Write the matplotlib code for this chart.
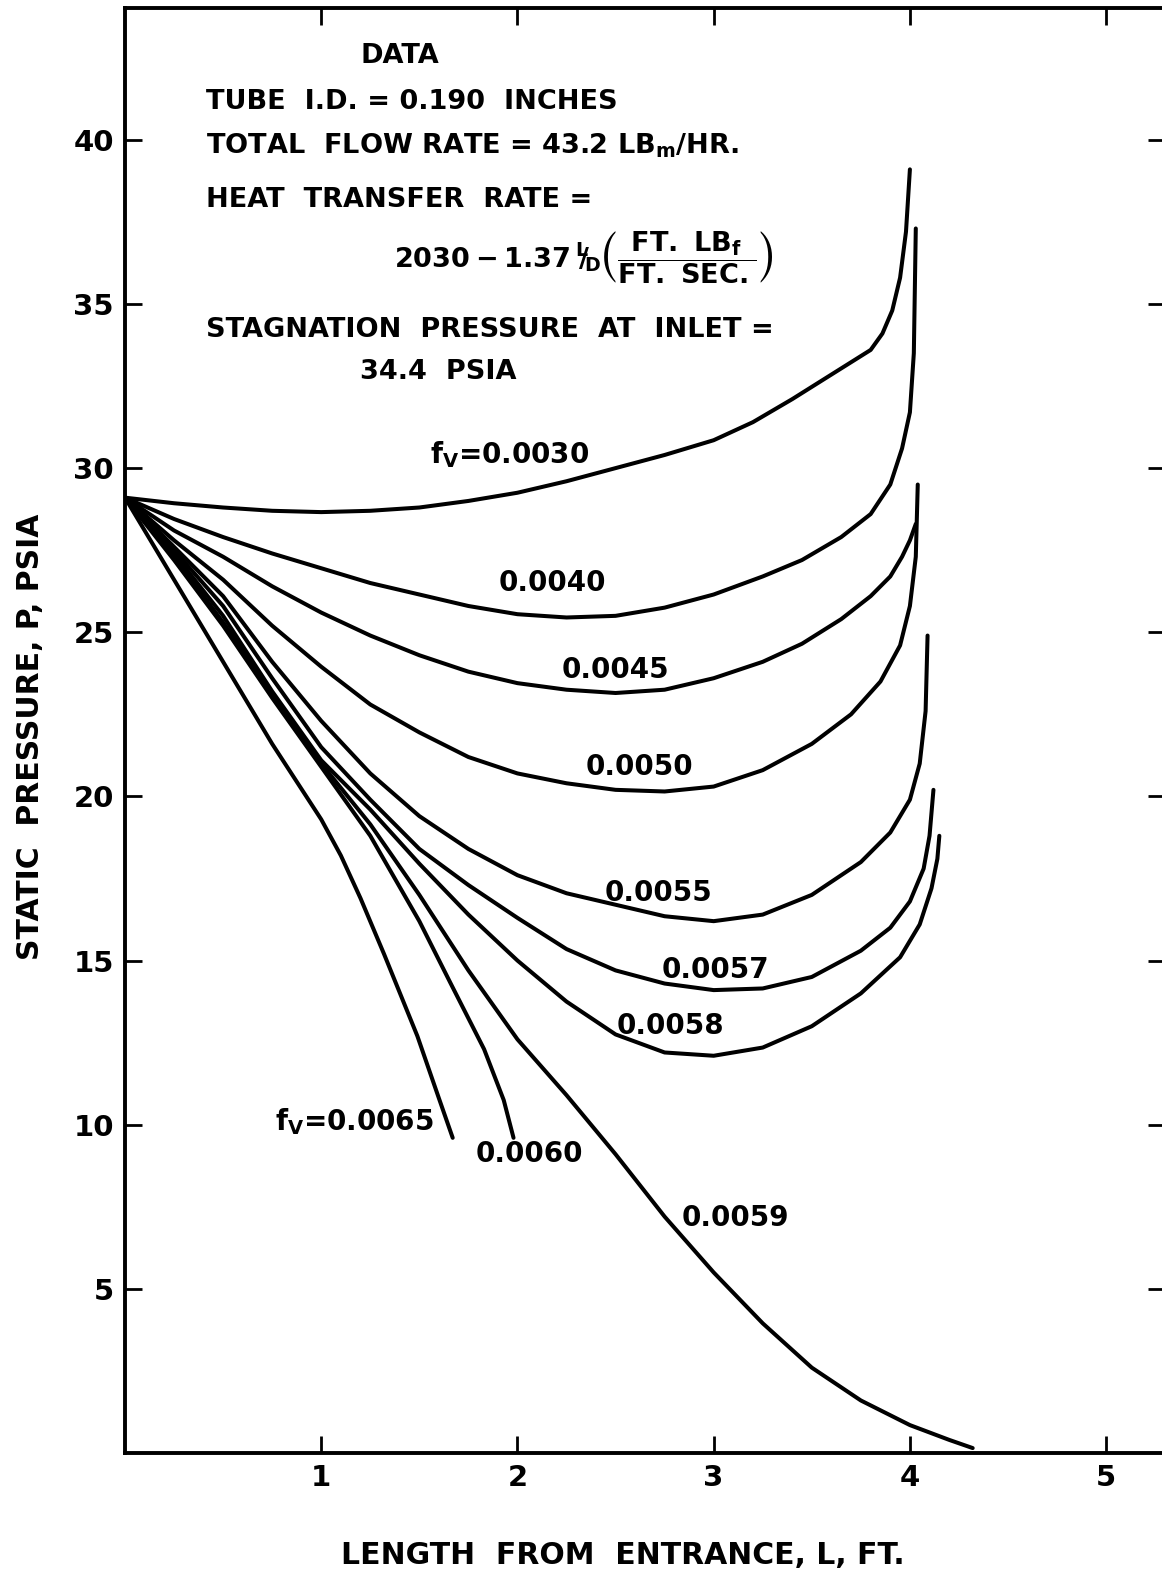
import matplotlib
matplotlib.use('Agg')
import matplotlib.pyplot as plt

plt.rcParams['font.family'] = ['DejaVu Sans']
plt.rcParams['font.weight'] = 'bold'
plt.rcParams['mathtext.fontset'] = 'dejavusans'

# length from entrance (ft) and static pressure (psia) for each friction factor
len_0030 = [0, 0.25, 0.5, 0.75, 1.0, 1.25, 1.5, 1.75, 2.0, 2.25, 2.5, 2.75, 3.0, 3.2, 3.4, 3.6, 3.8, 3.86, 3.91, 3.95, 3.98, 4.0]
p_0030 = [29.1, 28.93, 28.8, 28.7, 28.66, 28.7, 28.8, 29.0, 29.25, 29.6, 30.0, 30.4, 30.85, 31.4, 32.1, 32.85, 33.6, 34.1, 34.8, 35.8, 37.2, 39.1]

len_0040 = [0, 0.25, 0.5, 0.75, 1.0, 1.25, 1.5, 1.75, 2.0, 2.25, 2.5, 2.75, 3.0, 3.25, 3.45, 3.65, 3.8, 3.9, 3.96, 4.0, 4.02, 4.03]
p_0040 = [29.1, 28.45, 27.9, 27.4, 26.95, 26.5, 26.15, 25.8, 25.55, 25.45, 25.5, 25.75, 26.15, 26.7, 27.2, 27.9, 28.6, 29.5, 30.6, 31.7, 33.5, 37.3]

len_0045 = [0, 0.25, 0.5, 0.75, 1.0, 1.25, 1.5, 1.75, 2.0, 2.25, 2.5, 2.75, 3.0, 3.25, 3.45, 3.65, 3.8, 3.9, 3.96, 4.0, 4.03]
p_0045 = [29.1, 28.1, 27.3, 26.4, 25.6, 24.9, 24.3, 23.8, 23.45, 23.25, 23.15, 23.25, 23.6, 24.1, 24.65, 25.4, 26.1, 26.7, 27.3, 27.8, 28.3]

len_0050 = [0, 0.25, 0.5, 0.75, 1.0, 1.25, 1.5, 1.75, 2.0, 2.25, 2.5, 2.75, 3.0, 3.25, 3.5, 3.7, 3.85, 3.95, 4.0, 4.03, 4.04]
p_0050 = [29.1, 27.8, 26.6, 25.2, 23.95, 22.8, 21.95, 21.2, 20.7, 20.4, 20.2, 20.15, 20.3, 20.8, 21.6, 22.5, 23.5, 24.6, 25.8, 27.3, 29.5]

len_0055 = [0, 0.25, 0.5, 0.75, 1.0, 1.25, 1.5, 1.75, 2.0, 2.25, 2.5, 2.75, 3.0, 3.25, 3.5, 3.75, 3.9, 4.0, 4.05, 4.08, 4.09]
p_0055 = [29.1, 27.6, 26.1, 24.1, 22.3, 20.7, 19.4, 18.4, 17.6, 17.05, 16.7, 16.35, 16.2, 16.4, 17.0, 18.0, 18.9, 19.9, 21.0, 22.6, 24.9]

len_0057 = [0, 0.25, 0.5, 0.75, 1.0, 1.25, 1.5, 1.75, 2.0, 2.25, 2.5, 2.75, 3.0, 3.25, 3.5, 3.75, 3.9, 4.0, 4.07, 4.1, 4.12]
p_0057 = [29.1, 27.5, 25.8, 23.6, 21.5, 19.9, 18.4, 17.3, 16.3, 15.35, 14.7, 14.3, 14.1, 14.15, 14.5, 15.3, 16.0, 16.8, 17.8, 18.8, 20.2]

len_0058 = [0, 0.25, 0.5, 0.75, 1.0, 1.25, 1.5, 1.75, 2.0, 2.25, 2.5, 2.75, 3.0, 3.25, 3.5, 3.75, 3.95, 4.05, 4.11, 4.14, 4.15]
p_0058 = [29.1, 27.4, 25.5, 23.2, 21.1, 19.6, 17.95, 16.4, 15.0, 13.75, 12.75, 12.2, 12.1, 12.35, 13.0, 14.0, 15.1, 16.1, 17.2, 18.1, 18.8]

len_0059 = [0, 0.25, 0.5, 0.75, 1.0, 1.25, 1.5, 1.75, 2.0, 2.25, 2.5, 2.75, 3.0, 3.25, 3.5, 3.75, 4.0, 4.2, 4.32]
p_0059 = [29.1, 27.3, 25.3, 23.1, 21.0, 19.15, 17.0, 14.7, 12.6, 10.9, 9.1, 7.2, 5.5, 3.95, 2.6, 1.6, 0.85, 0.4, 0.15]

len_0060 = [0, 0.25, 0.5, 0.75, 1.0, 1.25, 1.5, 1.66, 1.83, 1.93, 1.98]
p_0060 = [29.1, 27.2, 25.2, 23.0, 20.9, 18.8, 16.2, 14.3, 12.3, 10.75, 9.6]

len_0065 = [0, 0.25, 0.5, 0.75, 1.0, 1.1, 1.2, 1.32, 1.49, 1.6, 1.67]
p_0065 = [29.1, 26.6, 24.1, 21.6, 19.3, 18.2, 16.9, 15.2, 12.7, 10.8, 9.6]

curves = [(len_0030, p_0030), (len_0040, p_0040), (len_0045, p_0045), (len_0050, p_0050),
          (len_0055, p_0055), (len_0057, p_0057), (len_0058, p_0058), (len_0059, p_0059),
          (len_0060, p_0060), (len_0065, p_0065)]

curve_labels = ['f$_\\mathregular{V}$=0.0030', '0.0040', '0.0045', '0.0050', '0.0055',
                '0.0057', '0.0058', '0.0059', '0.0060', 'f$_\\mathregular{V}$=0.0065']
label_x = [1.96, 2.18, 2.50, 2.62, 2.72, 3.01, 2.78, 3.11, 2.06, 1.17]
label_y = [30.4, 26.5, 23.85, 20.9, 17.07, 14.7, 13.0, 7.15, 9.1, 10.1]

x_ticks = [1, 2, 3, 4, 5]
y_ticks = [5, 10, 15, 20, 25, 30, 35, 40]

W, H = 1162, 1576
fig = plt.figure(figsize=(W / 100, H / 100), dpi=100)


def fxy(px, py):
    # pixel position in the picture -> figure fraction
    return px / W, 1 - py / H


ax = fig.add_axes([125 / W, 123 / H, 1040 / W, 1444.5 / H])
ax.set_xlim(0, 5.3)
ax.set_ylim(0, 44)

for xs, ys in curves:
    ax.plot(xs, ys, color='black', lw=2.9, solid_capstyle='round', solid_joinstyle='round')

for txt, lx, ly in zip(curve_labels, label_x, label_y):
    ax.text(lx, ly, txt, fontsize=20, ha='center', va='center')

ax.set_xticks(x_ticks)
ax.set_yticks(y_ticks)
ax.tick_params(direction='in', length=12, width=2, top=True, right=True,
               labelsize=21, pad=8)
for s in ax.spines.values():
    s.set_linewidth(2.8)

# text block
fs = 19.5
fig.text(*fxy(400, 56), 'DATA', fontsize=fs, ha='center', va='center')
fig.text(*fxy(206, 102), 'TUBE  I.D. = 0.190  INCHES', fontsize=fs, ha='left', va='center')
fig.text(*fxy(206, 146), 'TOTAL  FLOW RATE = 43.2 LB$_\\mathregular{m}$/HR.', fontsize=fs, ha='left', va='center')
fig.text(*fxy(206, 200), 'HEAT  TRANSFER  RATE =', fontsize=fs, ha='left', va='center')
fig.text(*fxy(394, 258),
         r'$\mathregular{2030-1.37\,}{}^{\mathregular{L}}\!\!/\!_{\mathregular{D}}'
         r'\left(\dfrac{\mathregular{FT.\ LB_f}}{\mathregular{FT.\ SEC.}}\right)$',
         fontsize=fs, ha='left', va='center')
fig.text(*fxy(206, 330), 'STAGNATION  PRESSURE  AT  INLET =', fontsize=fs, ha='left', va='center')
fig.text(*fxy(360, 372), '34.4  PSIA', fontsize=fs, ha='left', va='center')

fig.text(*fxy(31, 737), 'STATIC  PRESSURE, P, PSIA', fontsize=21.5, rotation=90, ha='center', va='center')
fig.text(*fxy(623, 1556), 'LENGTH  FROM  ENTRANCE, L, FT.', fontsize=21.5, ha='center', va='center')

fig.savefig('out.png', dpi=100)
